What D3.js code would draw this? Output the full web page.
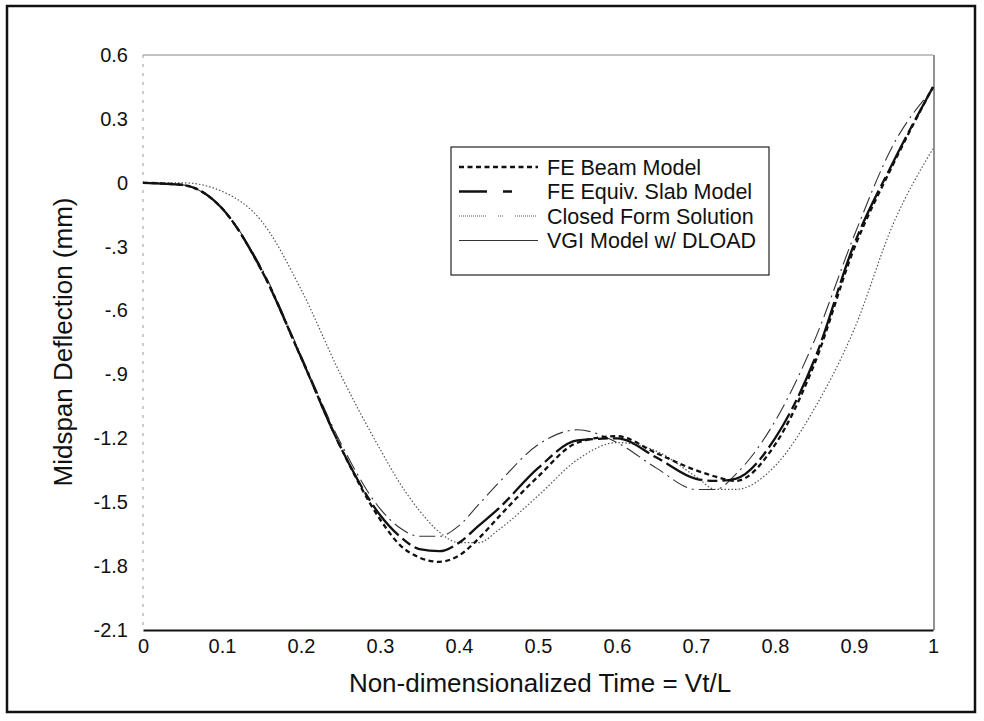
<!DOCTYPE html>
<html>
<head>
<meta charset="utf-8">
<script src="https://cdn.jsdelivr.net/npm/d3@7/dist/d3.min.js"></script>
<style>
  body { margin: 0; background: #fff; }
  svg { display: block; font-family: "Liberation Sans", Arial, sans-serif; }
</style>
</head>
<body>
<svg id="chart" width="984" height="721"></svg>
<script>
// non-dimensional time samples shared by every curve
const timeSteps = [0, 0.05, 0.1, 0.15, 0.2, 0.25, 0.3, 0.325, 0.35, 0.375, 0.4, 0.425, 0.45,
  0.5, 0.55, 0.6, 0.65, 0.7, 0.725, 0.75, 0.8, 0.85, 0.9, 0.95, 1];

// midspan deflection (mm)
const beamModel = [0, -0.01, -0.12, -0.41, -0.82, -1.24, -1.58, -1.70, -1.76, -1.78, -1.75, -1.67, -1.57,
  -1.38, -1.22, -1.19, -1.27, -1.35, -1.38, -1.40, -1.23, -0.85, -0.31, 0.09, 0.45];
const slabModel = [0, -0.01, -0.12, -0.41, -0.82, -1.24, -1.56, -1.66, -1.72, -1.73, -1.69, -1.61, -1.53,
  -1.34, -1.21, -1.20, -1.29, -1.39, -1.40, -1.39, -1.20, -0.83, -0.29, 0.10, 0.45];
const closedForm = [0, 0, -0.04, -0.18, -0.50, -0.90, -1.25, -1.41, -1.54, -1.64, -1.69, -1.69, -1.63,
  -1.47, -1.30, -1.22, -1.26, -1.38, -1.44, -1.44, -1.33, -1.06, -0.69, -0.19, 0.16];
const vgiModel = [0, -0.01, -0.12, -0.40, -0.81, -1.22, -1.53, -1.62, -1.66, -1.66, -1.61, -1.51, -1.41,
  -1.23, -1.16, -1.22, -1.34, -1.44, -1.44, -1.37, -1.12, -0.74, -0.25, 0.18, 0.44];

const seriesNames = ["FE Beam Model", "FE Equiv. Slab Model", "Closed Form Solution", "VGI Model w/ DLOAD"];

const xTicks = [0, 0.1, 0.2, 0.3, 0.4, 0.5, 0.6, 0.7, 0.8, 0.9, 1];
const xTickLabels = ["0", "0.1", "0.2", "0.3", "0.4", "0.5", "0.6", "0.7", "0.8", "0.9", "1"];
const yTicks = [0.6, 0.3, 0, -0.3, -0.6, -0.9, -1.2, -1.5, -1.8, -2.1];
const yTickLabels = ["0.6", "0.3", "0", "-.3", "-.6", "-.9", "-1.2", "-1.5", "-1.8", "-2.1"];

const svg = d3.select("#chart");

const plot = { left: 143, right: 933, top: 55, bottom: 630 };

const xScale = d3.scaleLinear().domain([0, 1]).range([plot.left, plot.right]);
const yScale = d3.scaleLinear().domain([-2.1, 0.6]).range([plot.bottom, plot.top]);

/**
 * Builds a dash pattern made of dotted runs separated by gaps
 * (used for the closed form legend swatch).
 */
function dottedRuns(runs) {
  const parts = [];
  runs.forEach(([len, gap]) => {
    for (let i = 0; i < len / 2; i++) parts.push(1, 1);
    parts[parts.length - 1] = gap;
  });
  return parts.join(",");
}

// line styles, in legend order
const styles = [
  { stroke: "#111", width: 2.3, dash: "5,3.5", legendDash: "5,3.5" },
  { stroke: "#111", width: 2.3, dash: "40,5,10,5", legendDash: "28,16,9,40" },
  { stroke: "#555", width: 1.2, dash: "1.5,2", legendDash: dottedRuns([[28, 12], [6, 12], [22, 40]]) },
  { stroke: "#333", width: 1.1, dash: "16,5,2,5", legendDash: null }
];

// outer page frame
svg.append("rect")
  .attr("x", 7).attr("y", 6)
  .attr("width", 968).attr("height", 706)
  .attr("fill", "none")
  .attr("stroke", "#111")
  .attr("stroke-width", 2.5);

// plot frame: faint top / left / right, solid bottom
svg.append("line")
  .attr("x1", plot.left).attr("x2", plot.right)
  .attr("y1", plot.top).attr("y2", plot.top)
  .attr("stroke", "#888").attr("stroke-width", 1.2);
svg.append("line")
  .attr("x1", plot.right + 1).attr("x2", plot.right + 1)
  .attr("y1", plot.top).attr("y2", plot.bottom)
  .attr("stroke", "#555").attr("stroke-width", 1.3);
svg.append("line")
  .attr("x1", plot.left).attr("x2", plot.left)
  .attr("y1", plot.top).attr("y2", plot.bottom)
  .attr("stroke", "#999").attr("stroke-width", 1)
  .attr("stroke-dasharray", "3,6");

// axes (no tick marks, just labels)
const xAxis = d3.axisBottom(xScale)
  .tickValues(xTicks)
  .tickFormat((d, i) => xTickLabels[i])
  .tickSize(0)
  .tickPadding(9);
svg.append("g")
  .attr("transform", `translate(0,${plot.bottom})`)
  .call(xAxis)
  .call((g) => g.select(".domain").attr("stroke", "#111").attr("stroke-width", 2.2))
  .selectAll("text")
  .attr("font-size", 20)
  .attr("fill", "#111");

const yAxis = d3.axisLeft(yScale)
  .tickValues(yTicks)
  .tickFormat((d, i) => yTickLabels[i])
  .tickSize(0)
  .tickPadding(15);
svg.append("g")
  .attr("transform", `translate(${plot.left},0)`)
  .call(yAxis)
  .call((g) => g.select(".domain").remove())
  .selectAll("text")
  .attr("font-size", 20)
  .attr("fill", "#111");

// axis titles
svg.append("text")
  .attr("x", 540).attr("y", 692)
  .attr("text-anchor", "middle")
  .attr("font-size", 26)
  .attr("fill", "#111")
  .text("Non-dimensionalized Time = Vt/L");

svg.append("text")
  .attr("transform", "translate(72,342) rotate(-90)")
  .attr("text-anchor", "middle")
  .attr("font-size", 26)
  .attr("fill", "#111")
  .text("Midspan Deflection (mm)");

// curves
const seriesData = [beamModel, slabModel, closedForm, vgiModel];
const line = d3.line()
  .x((d, i) => xScale(timeSteps[i]))
  .y((d) => yScale(d))
  .curve(d3.curveMonotoneX);

[2, 3, 1, 0].forEach((k) => {
  svg.append("path")
    .datum(seriesData[k])
    .attr("d", line)
    .attr("fill", "none")
    .attr("stroke", styles[k].stroke)
    .attr("stroke-width", styles[k].width)
    .attr("stroke-dasharray", styles[k].dash);
});

// legend
const legend = svg.append("g").attr("transform", "translate(451,147)");
legend.append("rect")
  .attr("width", 318).attr("height", 128)
  .attr("fill", "#fff")
  .attr("stroke", "#222")
  .attr("stroke-width", 1.2);

seriesNames.forEach((name, i) => {
  const y = 20 + i * 24.5;
  legend.append("line")
    .attr("x1", 8).attr("x2", 87)
    .attr("y1", y).attr("y2", y)
    .attr("stroke", styles[i].stroke)
    .attr("stroke-width", styles[i].width)
    .attr("stroke-dasharray", styles[i].legendDash);
  legend.append("text")
    .attr("x", 96).attr("y", y)
    .attr("dy", "0.35em")
    .attr("font-size", 21.5)
    .attr("fill", "#111")
    .text(name);
});
</script>
</body>
</html>
